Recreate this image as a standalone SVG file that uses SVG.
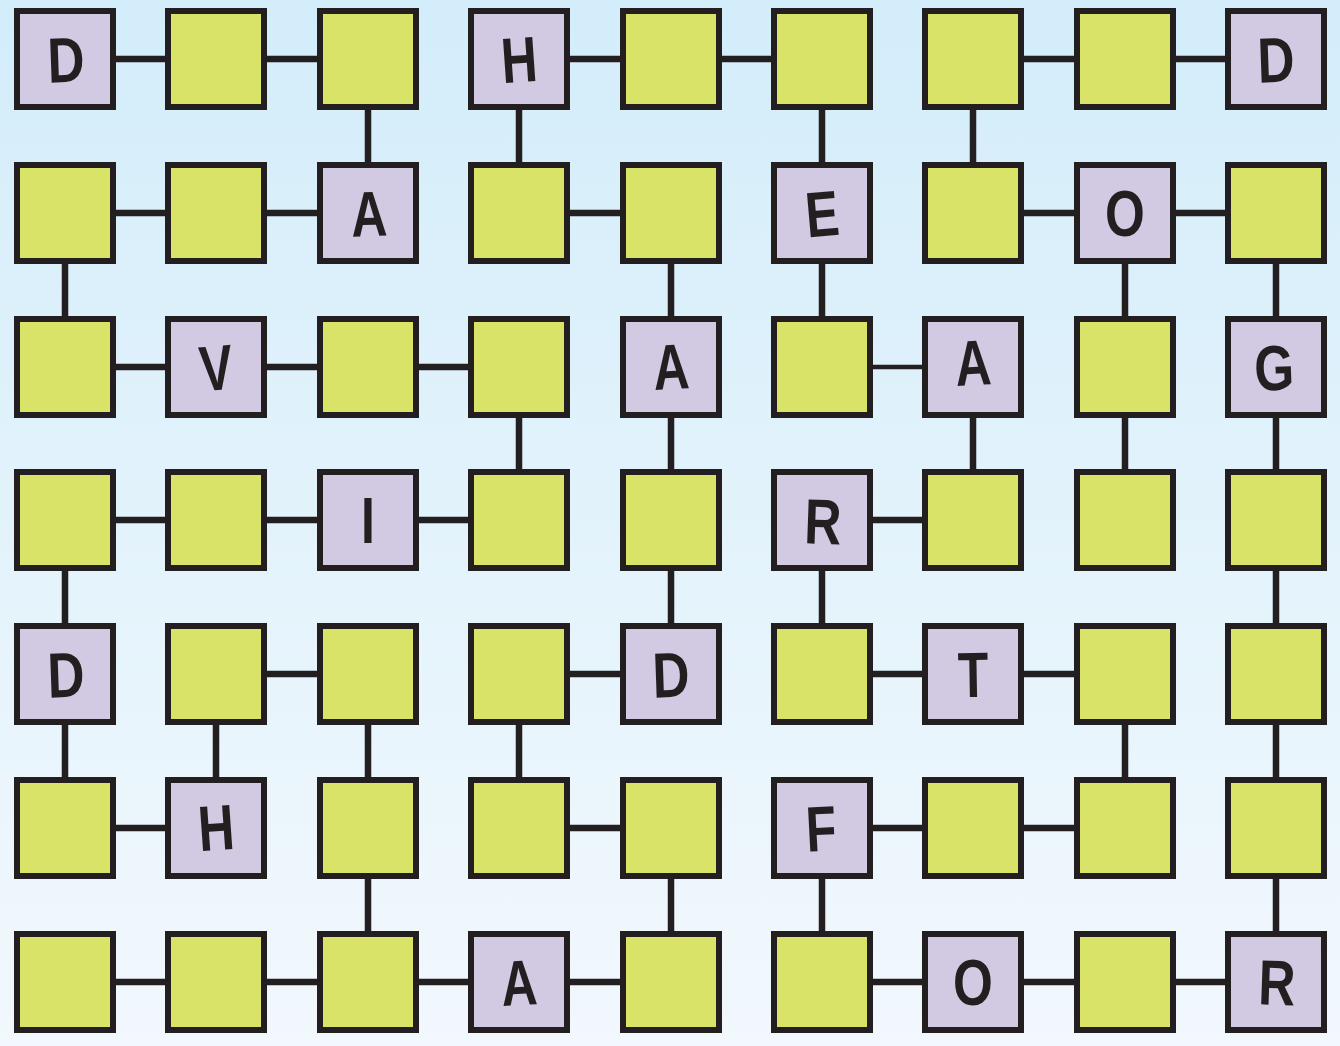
<svg xmlns="http://www.w3.org/2000/svg" width="1340" height="1046" viewBox="0 0 1340 1046">
<defs>
<linearGradient id="bg" x1="0" y1="0" x2="0" y2="1">
<stop offset="0" stop-color="#d3edfa"/>
<stop offset="1" stop-color="#f2f8fd"/>
</linearGradient>
<rect id="box" width="96" height="96"/>
</defs>
<style>
.c line{stroke:#231f20;stroke-width:6.5;stroke-linecap:butt}
.c line.thin{stroke-width:4.5}
.g{fill:#d9e368;stroke:#231f20;stroke-width:6}
.p{fill:#d2c9e2;stroke:#231f20;stroke-width:6}
.t{font-family:"Liberation Sans","DejaVu Sans",sans-serif;font-weight:bold;font-size:64px;fill:#231f20;text-anchor:middle}
</style>
<rect width="1340" height="1046" fill="url(#bg)"/>
<g id="connectors" class="c">
<!-- row 0 -->
<line x1="65" y1="59" x2="216" y2="59"/>
<line x1="216" y1="59" x2="368" y2="59"/>
<line x1="519" y1="59" x2="671" y2="59"/>
<line x1="671" y1="59" x2="822" y2="59"/>
<line x1="973" y1="59" x2="1125" y2="59"/>
<line x1="1125" y1="59" x2="1276" y2="59"/>
<!-- row 1 -->
<line x1="65" y1="213" x2="216" y2="213"/>
<line x1="216" y1="213" x2="368" y2="213"/>
<line x1="519" y1="213" x2="671" y2="213"/>
<line x1="973" y1="213" x2="1125" y2="213"/>
<line x1="1125" y1="213" x2="1276" y2="213"/>
<!-- row 2 -->
<line x1="65" y1="367" x2="216" y2="367"/>
<line x1="216" y1="367" x2="368" y2="367"/>
<line x1="368" y1="367" x2="519" y2="367"/>
<line class="thin" x1="822" y1="367" x2="973" y2="367"/>
<!-- row 3 -->
<line x1="65" y1="520" x2="216" y2="520"/>
<line x1="216" y1="520" x2="368" y2="520"/>
<line x1="368" y1="520" x2="519" y2="520"/>
<line x1="822" y1="520" x2="973" y2="520"/>
<!-- row 4 -->
<line x1="216" y1="674" x2="368" y2="674"/>
<line x1="519" y1="674" x2="671" y2="674"/>
<line x1="822" y1="674" x2="973" y2="674"/>
<line x1="973" y1="674" x2="1125" y2="674"/>
<!-- row 5 -->
<line x1="65" y1="828" x2="216" y2="828"/>
<line x1="519" y1="828" x2="671" y2="828"/>
<line x1="822" y1="828" x2="973" y2="828"/>
<line x1="973" y1="828" x2="1125" y2="828"/>
<!-- row 6 -->
<line x1="65" y1="982" x2="216" y2="982"/>
<line x1="216" y1="982" x2="368" y2="982"/>
<line x1="368" y1="982" x2="519" y2="982"/>
<line x1="519" y1="982" x2="671" y2="982"/>
<line x1="822" y1="982" x2="973" y2="982"/>
<line x1="973" y1="982" x2="1125" y2="982"/>
<line x1="1125" y1="982" x2="1276" y2="982"/>
<!-- vertical r0-r1 -->
<line x1="368" y1="59" x2="368" y2="213"/>
<line x1="519" y1="59" x2="519" y2="213"/>
<line x1="822" y1="59" x2="822" y2="213"/>
<line x1="973" y1="59" x2="973" y2="213"/>
<!-- r1-r2 -->
<line x1="65" y1="213" x2="65" y2="367"/>
<line x1="671" y1="213" x2="671" y2="367"/>
<line x1="822" y1="213" x2="822" y2="367"/>
<line x1="1125" y1="213" x2="1125" y2="367"/>
<line x1="1276" y1="213" x2="1276" y2="367"/>
<!-- r2-r3 -->
<line x1="519" y1="367" x2="519" y2="520"/>
<line x1="671" y1="367" x2="671" y2="520"/>
<line x1="973" y1="367" x2="973" y2="520"/>
<line x1="1125" y1="367" x2="1125" y2="520"/>
<line x1="1276" y1="367" x2="1276" y2="520"/>
<!-- r3-r4 -->
<line x1="65" y1="520" x2="65" y2="674"/>
<line x1="671" y1="520" x2="671" y2="674"/>
<line x1="822" y1="520" x2="822" y2="674"/>
<line x1="1276" y1="520" x2="1276" y2="674"/>
<!-- r4-r5 -->
<line x1="65" y1="674" x2="65" y2="828"/>
<line x1="216" y1="674" x2="216" y2="828"/>
<line x1="368" y1="674" x2="368" y2="828"/>
<line x1="519" y1="674" x2="519" y2="828"/>
<line x1="1125" y1="674" x2="1125" y2="828"/>
<line x1="1276" y1="674" x2="1276" y2="828"/>
<!-- r5-r6 -->
<line x1="368" y1="828" x2="368" y2="982"/>
<line x1="671" y1="828" x2="671" y2="982"/>
<line x1="822" y1="828" x2="822" y2="982"/>
<line x1="1276" y1="828" x2="1276" y2="982"/>
</g>
<!-- row 0 -->
<g id="n0-0"><use href="#box" class="p" x="17" y="11"/><text class="t" transform="translate(66,59) rotate(-2) scale(0.8,1)" y="23">D</text></g>
<g id="n0-1"><use href="#box" class="g" x="168" y="11"/></g>
<g id="n0-2"><use href="#box" class="g" x="320" y="11"/></g>
<g id="n0-3"><use href="#box" class="p" x="471" y="11"/><text class="t" transform="translate(519,59) rotate(-4) scale(0.78,1)" y="23">H</text></g>
<g id="n0-4"><use href="#box" class="g" x="623" y="11"/></g>
<g id="n0-5"><use href="#box" class="g" x="774" y="11"/></g>
<g id="n0-6"><use href="#box" class="g" x="925" y="11"/></g>
<g id="n0-7"><use href="#box" class="g" x="1077" y="11"/></g>
<g id="n0-8"><use href="#box" class="p" x="1228" y="11"/><text class="t" transform="translate(1276,59) rotate(-2) scale(0.8,1)" y="23">D</text></g>
<!-- row 1 -->
<g id="n1-0"><use href="#box" class="g" x="17" y="165"/></g>
<g id="n1-1"><use href="#box" class="g" x="168" y="165"/></g>
<g id="n1-2"><use href="#box" class="p" x="320" y="165"/><text class="t" transform="translate(369,213) rotate(-2) scale(0.78,1)" y="23">A</text></g>
<g id="n1-3"><use href="#box" class="g" x="471" y="165"/></g>
<g id="n1-4"><use href="#box" class="g" x="623" y="165"/></g>
<g id="n1-5"><use href="#box" class="p" x="774" y="165"/><text class="t" transform="translate(822,213) rotate(-5) scale(0.78,1)" y="23">E</text></g>
<g id="n1-6"><use href="#box" class="g" x="925" y="165"/></g>
<g id="n1-7"><use href="#box" class="p" x="1077" y="165"/><text class="t" transform="translate(1125,213) scale(0.8,1)" y="23">O</text></g>
<g id="n1-8"><use href="#box" class="g" x="1228" y="165"/></g>
<!-- row 2 -->
<g id="n2-0"><use href="#box" class="g" x="17" y="319"/></g>
<g id="n2-1"><use href="#box" class="p" x="168" y="319"/><text class="t" transform="translate(216,367) rotate(-5) scale(0.78,1)" y="23">V</text></g>
<g id="n2-2"><use href="#box" class="g" x="320" y="319"/></g>
<g id="n2-3"><use href="#box" class="g" x="471" y="319"/></g>
<g id="n2-4"><use href="#box" class="p" x="623" y="319"/><text class="t" transform="translate(671,366) rotate(-3) scale(0.78,1)" y="23">A</text></g>
<g id="n2-5"><use href="#box" class="g" x="774" y="319"/></g>
<g id="n2-6"><use href="#box" class="p" x="925" y="319"/><text class="t" transform="translate(973,362) rotate(-3) scale(0.78,1)" y="23">A</text></g>
<g id="n2-7"><use href="#box" class="g" x="1077" y="319"/></g>
<g id="n2-8"><use href="#box" class="p" x="1228" y="319"/><text class="t" transform="translate(1274,367) rotate(-2) scale(0.8,1)" y="23">G</text></g>
<!-- row 3 -->
<g id="n3-0"><use href="#box" class="g" x="17" y="472"/></g>
<g id="n3-1"><use href="#box" class="g" x="168" y="472"/></g>
<g id="n3-2"><use href="#box" class="p" x="320" y="472"/><text class="t" transform="translate(368,520) scale(0.78,1)" y="23">I</text></g>
<g id="n3-3"><use href="#box" class="g" x="471" y="472"/></g>
<g id="n3-4"><use href="#box" class="g" x="623" y="472"/></g>
<g id="n3-5"><use href="#box" class="p" x="774" y="472"/><text class="t" transform="translate(823,521) rotate(2) scale(0.8,1)" y="23">R</text></g>
<g id="n3-6"><use href="#box" class="g" x="925" y="472"/></g>
<g id="n3-7"><use href="#box" class="g" x="1077" y="472"/></g>
<g id="n3-8"><use href="#box" class="g" x="1228" y="472"/></g>
<!-- row 4 -->
<g id="n4-0"><use href="#box" class="p" x="17" y="626"/><text class="t" transform="translate(66,674) rotate(-2) scale(0.8,1)" y="23">D</text></g>
<g id="n4-1"><use href="#box" class="g" x="168" y="626"/></g>
<g id="n4-2"><use href="#box" class="g" x="320" y="626"/></g>
<g id="n4-3"><use href="#box" class="g" x="471" y="626"/></g>
<g id="n4-4"><use href="#box" class="p" x="623" y="626"/><text class="t" transform="translate(671,674) rotate(-2) scale(0.8,1)" y="23">D</text></g>
<g id="n4-5"><use href="#box" class="g" x="774" y="626"/></g>
<g id="n4-6"><use href="#box" class="p" x="925" y="626"/><text class="t" transform="translate(973,674) rotate(-1) scale(0.78,1)" y="23">T</text></g>
<g id="n4-7"><use href="#box" class="g" x="1077" y="626"/></g>
<g id="n4-8"><use href="#box" class="g" x="1228" y="626"/></g>
<!-- row 5 -->
<g id="n5-0"><use href="#box" class="g" x="17" y="780"/></g>
<g id="n5-1"><use href="#box" class="p" x="168" y="780"/><text class="t" transform="translate(216,827) rotate(-4) scale(0.78,1)" y="23">H</text></g>
<g id="n5-2"><use href="#box" class="g" x="320" y="780"/></g>
<g id="n5-3"><use href="#box" class="g" x="471" y="780"/></g>
<g id="n5-4"><use href="#box" class="g" x="623" y="780"/></g>
<g id="n5-5"><use href="#box" class="p" x="774" y="780"/><text class="t" transform="translate(821,828) rotate(-3) scale(0.78,1)" y="23">F</text></g>
<g id="n5-6"><use href="#box" class="g" x="925" y="780"/></g>
<g id="n5-7"><use href="#box" class="g" x="1077" y="780"/></g>
<g id="n5-8"><use href="#box" class="g" x="1228" y="780"/></g>
<!-- row 6 -->
<g id="n6-0"><use href="#box" class="g" x="17" y="934"/></g>
<g id="n6-1"><use href="#box" class="g" x="168" y="934"/></g>
<g id="n6-2"><use href="#box" class="g" x="320" y="934"/></g>
<g id="n6-3"><use href="#box" class="p" x="471" y="934"/><text class="t" transform="translate(519,982) rotate(-3) scale(0.78,1)" y="23">A</text></g>
<g id="n6-4"><use href="#box" class="g" x="623" y="934"/></g>
<g id="n6-5"><use href="#box" class="g" x="774" y="934"/></g>
<g id="n6-6"><use href="#box" class="p" x="925" y="934"/><text class="t" transform="translate(973,982) scale(0.8,1)" y="23">O</text></g>
<g id="n6-7"><use href="#box" class="g" x="1077" y="934"/></g>
<g id="n6-8"><use href="#box" class="p" x="1228" y="934"/><text class="t" transform="translate(1277,982) rotate(2) scale(0.8,1)" y="23">R</text></g>
</svg>
